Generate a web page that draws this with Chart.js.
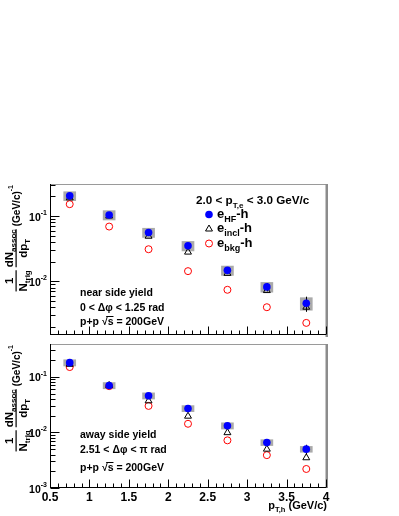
<!DOCTYPE html>
<html><head><meta charset="utf-8">
<script src="https://cdn.jsdelivr.net/npm/chart.js@4/dist/chart.umd.min.js"></script>
<style>
html,body{margin:0;padding:0;background:#fff;}
#wrap{position:relative;width:399px;height:516px;overflow:hidden;background:#fff;}
canvas{position:absolute;left:0;}
</style></head><body>
<div id="wrap">
<canvas id="topPanel" width="399" height="340" style="top:0px"></canvas>
<canvas id="botPanel" width="399" height="177" style="top:339px"></canvas>
</div>
<script>
// ---------------- data ----------------
const ptBins = [0.75, 1.25, 1.75, 2.25, 2.75, 3.25, 3.75];

const nearHF     = [0.204, 0.104, 0.056, 0.035, 0.0147, 0.0082, 0.0046];
const nearHFStat = [0.005, 0.003, 0.002, 0.0015, 0.0009, 0.0012, 0.0012];
const nearHFSys  = [0.032, 0.017, 0.009, 0.0058, 0.0024, 0.0014, 0.0010];
const nearIncl   = [0.190, 0.100, 0.049, 0.028, 0.0132, 0.0072, 0.0040];
const nearBkg    = [0.152, 0.069, 0.031, 0.0143, 0.0074, 0.0040, 0.0023];

const awayHF     = [0.180, 0.070, 0.0457, 0.027, 0.0132, 0.0066, 0.0050];
const awayHFStat = [0.004, 0.002, 0.0015, 0.001, 0.0006, 0.0007, 0.0010];
const awayHFSys  = [0.023, 0.009, 0.0058, 0.0034, 0.0017, 0.0008, 0.0006];
const awayIncl   = [0.168, 0.070, 0.037, 0.0196, 0.0099, 0.0050, 0.0035];
const awayBkg    = [0.150, 0.068, 0.030, 0.0143, 0.0072, 0.0039, 0.0022];

const xTickValues = [0.5, 1, 1.5, 2, 2.5, 3, 3.5, 4];
const xTickLabels = ["0.5", "1", "1.5", "2", "2.5", "3", "3.5", "4"];
const nearYTickExps = [-2, -1];
const awayYTickExps = [-3, -2, -1];

const legendTitle = ["2.0 < p", "T,e", " < 3.0 GeV/c"];
const legendEntries = [["e", "HF", "-h"], ["e", "incl", "-h"], ["e", "bkg", "-h"]];
const nearText = ["near side yield", "0 < \u0394\u03c6 < 1.25 rad", "p+p \u221as = 200GeV"];
const awayText = ["away side yield", "2.51 < \u0394\u03c6 < \u03c0 rad", "p+p \u221as = 200GeV"];

// ---------------- helpers ----------------
const FAM = '"Liberation Sans", Arial, Helvetica, sans-serif';
function fnt(s, bold) { return (bold === false ? '' : 'bold ') + s + 'px ' + FAM; }
function richWidth(ctx, parts) {
  let w = 0;
  for (const p of parts) { ctx.font = fnt(p.s, p.b); w += ctx.measureText(p.t).width; }
  return w;
}
function drawRich(ctx, x, y, parts, align) {
  const w = richWidth(ctx, parts);
  let cx = align === 'right' ? x - w : (align === 'center' ? x - w / 2 : x);
  ctx.textAlign = 'left'; ctx.textBaseline = 'alphabetic';
  const pos = [];
  for (const p of parts) {
    ctx.font = fnt(p.s, p.b);
    ctx.fillText(p.t, cx, y + (p.dy || 0));
    const pw = ctx.measureText(p.t).width;
    pos.push([cx, pw]);
    cx += pw;
  }
  return pos;
}
function drawSqrtLine(ctx, x, y, text, size) {
  const i = text.indexOf('\u221a');
  const parts = [{t: text.slice(0, i), s: size}, {t: '\u221a', s: size}, {t: 's', s: size}, {t: text.slice(i + 2), s: size}];
  const pos = drawRich(ctx, x, y, parts, 'left');
  ctx.save();
  ctx.strokeStyle = '#000'; ctx.lineWidth = 1;
  ctx.beginPath();
  const yy = Math.round(y - size * 0.78) + 0.5;
  ctx.moveTo(pos[1][0] + pos[1][1] * 0.75, yy);
  ctx.lineTo(pos[2][0] + pos[2][1], yy);
  ctx.stroke();
  ctx.restore();
}

function drawYTitle(ctx, px, topY) {
  // rotated fraction title: 1/N_trig dN_assoc/dp_T (GeV/c)^-1, ending at topY
  const M = 11.5, S = 8, G = 10, SU = 7;
  ctx.save();
  ctx.fillStyle = '#000';
  const w = (t, s) => { ctx.font = fnt(s); return ctx.measureText(t).width; };
  const f1 = Math.max(w('1', M), w('N', M) + w('trig', S));
  const f2 = Math.max(w('dN', M) + w('assoc', S), w('dp', M) + w('T', S));
  const g = w('(GeV/c)', G) + w('-1', SU);
  const gap1 = 3, gap2 = 3;
  const W = f1 + gap1 + f2 + gap2 + g;
  ctx.translate(px, topY);
  ctx.rotate(-Math.PI / 2);
  let x0 = -W;
  const numY = -3, denY = 10.5;
  ctx.textAlign = 'left'; ctx.textBaseline = 'alphabetic';
  ctx.font = fnt(M); ctx.fillText('1', x0 + (f1 - w('1', M)) / 2, numY);
  const d1 = w('N', M) + w('trig', S);
  let dx = x0 + (f1 - d1) / 2;
  ctx.font = fnt(M); ctx.fillText('N', dx, denY); dx += w('N', M);
  ctx.font = fnt(S); ctx.fillText('trig', dx, denY + 3);
  ctx.fillRect(x0, -0.5, f1, 1.2);
  x0 += f1 + gap1;
  const n2 = w('dN', M) + w('assoc', S);
  dx = x0 + (f2 - n2) / 2;
  ctx.font = fnt(M); ctx.fillText('dN', dx, numY); dx += w('dN', M);
  ctx.font = fnt(S); ctx.fillText('assoc', dx, numY + 3);
  const dd2 = w('dp', M) + w('T', S);
  dx = x0 + (f2 - dd2) / 2;
  ctx.font = fnt(M); ctx.fillText('dp', dx, denY); dx += w('dp', M);
  ctx.font = fnt(S); ctx.fillText('T', dx, denY + 3);
  ctx.fillRect(x0, -0.5, f2, 1.2);
  x0 += f2 + gap2;
  ctx.font = fnt(G); ctx.fillText('(GeV/c)', x0, 3.5); x0 += w('(GeV/c)', G);
  ctx.font = fnt(SU); ctx.fillText('-1', x0, -3);
  ctx.restore();
}

function makeRootPlugin(cfg) {
  return {
    id: 'rootStyle' + cfg.name,
    afterDatasetDraw(chart, args) {
      if (args.index !== 3) return;
      const ctx = chart.ctx, xs = chart.scales.x, ys = chart.scales.y;
      ctx.save();
      ctx.strokeStyle = '#000'; ctx.lineWidth = 1;
      ctx.beginPath();
      for (let i = 0; i < ptBins.length; i++) {
        const px = Math.round(xs.getPixelForValue(ptBins[i])) + 0.5;
        ctx.moveTo(px, ys.getPixelForValue(cfg.hf[i] + cfg.stat[i]));
        ctx.lineTo(px, ys.getPixelForValue(cfg.hf[i] - cfg.stat[i]));
      }
      ctx.stroke();
      ctx.restore();
    },
    afterDatasetsDraw(chart) {
      const ctx = chart.ctx, xs = chart.scales.x, ys = chart.scales.y, a = chart.chartArea;
      ctx.save();
      ctx.strokeStyle = '#9a9a9a'; ctx.lineWidth = 1;
      ctx.beginPath();
      ctx.moveTo(a.left, a.top + 0.5); ctx.lineTo(a.right, a.top + 0.5);
      ctx.stroke();
      ctx.fillStyle = '#8c8c8c';
      ctx.fillRect(a.right - 0.5, a.top, 2.5, a.bottom - a.top + (cfg.bottomPanel ? 0 : 2));
      ctx.strokeStyle = '#000'; ctx.lineWidth = 1;
      ctx.beginPath();
      const lx = a.left + 0.5, by = a.bottom - 0.5;
      ctx.moveTo(lx, a.top); ctx.lineTo(lx, a.bottom);
      ctx.moveTo(a.left, by); ctx.lineTo(a.right, by);
      for (let k = 0; k <= 35; k++) {
        const v = 0.5 + k * 0.1;
        const px = Math.round(xs.getPixelForValue(v)) + 0.5;
        const len = (k % 5 === 0) ? 8 : 4;
        ctx.moveTo(px, by); ctx.lineTo(px, by - len);
      }
      for (let e = -4; e <= 0; e++) {
        for (let m = 1; m <= 9; m++) {
          const v = m * Math.pow(10, e);
          if (v < ys.min * 0.999 || v > ys.max * 1.001) continue;
          const py = Math.round(ys.getPixelForValue(v)) + 0.5;
          const len = m === 1 ? 9 : 5;
          ctx.moveTo(lx, py); ctx.lineTo(lx + len, py);
        }
      }
      ctx.stroke();
      ctx.fillStyle = '#000';
      for (const e of cfg.yExps) {
        const py = ys.getPixelForValue(Math.pow(10, e));
        const sup = String(e);
        ctx.font = fnt(7); const ws = ctx.measureText(sup).width;
        ctx.font = fnt(10.5); const wb = ctx.measureText('10').width;
        const xr = a.left - 3;
        ctx.textAlign = 'left'; ctx.textBaseline = 'alphabetic';
        ctx.font = fnt(10.5); ctx.fillText('10', xr - ws - wb, py + 4.5);
        ctx.font = fnt(7); ctx.fillText(sup, xr - ws, py - 1);
      }
      if (cfg.bottomPanel) {
        ctx.font = fnt(12); ctx.textAlign = 'center'; ctx.textBaseline = 'alphabetic';
        for (let i = 0; i < xTickValues.length; i++) {
          ctx.fillText(xTickLabels[i], xs.getPixelForValue(xTickValues[i]), a.bottom + 13);
        }
        drawRich(ctx, a.right + 1, a.bottom + 21, [
          {t: 'p', s: 11}, {t: 'T,h', s: 7.5, dy: 3}, {t: ' (GeV/c)', s: 11}
        ], 'right');
      }
      drawYTitle(ctx, 16, a.top + cfg.titleShift);
      ctx.fillStyle = '#000';
      ctx.font = fnt(10.5); ctx.textAlign = 'left';
      ctx.fillText(cfg.text[0], 80, cfg.textY[0]);
      ctx.fillText(cfg.text[1], 80, cfg.textY[1]);
      drawSqrtLine(ctx, 80, cfg.textY[2], cfg.text[2], 10.5);
      if (!cfg.bottomPanel) {
        drawRich(ctx, 196, 204, [
          {t: legendTitle[0], s: 11.7}, {t: legendTitle[1], s: 8, dy: 3.5}, {t: legendTitle[2], s: 11.7}
        ], 'left');
        const ly = [214.5, 229, 243.5];
        const mx = 209;
        ctx.fillStyle = '#0000ff';
        ctx.beginPath(); ctx.arc(mx, ly[0], 3.8, 0, Math.PI * 2); ctx.fill();
        ctx.strokeStyle = '#000'; ctx.lineWidth = 1;
        ctx.beginPath();
        const r = 4;
        for (let k = 0; k < 3; k++) {
          const ang = k * 2 * Math.PI / 3;
          const X = mx + Math.sin(ang) * r, Y = ly[1] - Math.cos(ang) * r;
          if (k === 0) ctx.moveTo(X, Y); else ctx.lineTo(X, Y);
        }
        ctx.closePath(); ctx.stroke();
        ctx.strokeStyle = '#ff0000';
        ctx.beginPath(); ctx.arc(mx, ly[2], 3.5, 0, Math.PI * 2); ctx.stroke();
        ctx.fillStyle = '#000';
        for (let k = 0; k < 3; k++) {
          drawRich(ctx, 217, ly[k] + 3, [
            {t: legendEntries[k][0], s: 13}, {t: legendEntries[k][1], s: 9, dy: 4}, {t: legendEntries[k][2], s: 13}
          ], 'left');
        }
      }
      ctx.restore();
    }
  };
}

function pts(vals) { return ptBins.map((x, i) => ({x: x, y: vals[i]})); }
function boxes(vals, sys) { return ptBins.map((x, i) => ({x: x, y: [vals[i] - sys[i], vals[i] + sys[i]]})); }

function makePanel(id, cfg) {
  return new Chart(document.getElementById(id), {
    type: 'scatter',
    data: { datasets: [
      {label: 'e_HF-h', data: pts(cfg.hf), pointStyle: 'circle', pointRadius: 3.8, pointHoverRadius: 3.8,
       backgroundColor: '#0000ff', borderColor: '#0000ff', borderWidth: 0},
      {label: 'e_incl-h', data: pts(cfg.incl), pointStyle: 'triangle', pointRadius: 4, pointHoverRadius: 4,
       backgroundColor: 'rgba(0,0,0,0)', borderColor: '#000000', borderWidth: 1},
      {label: 'e_bkg-h', data: pts(cfg.bkg), pointStyle: 'circle', pointRadius: 3.5, pointHoverRadius: 3.5,
       backgroundColor: 'rgba(0,0,0,0)', borderColor: '#ff0000', borderWidth: 1},
      {type: 'bar', label: 'sys', data: boxes(cfg.hf, cfg.sys), backgroundColor: '#aaaaaa',
       borderWidth: 0, barThickness: 12}
    ]},
    options: {
      responsive: false, animation: false, devicePixelRatio: 1, events: [],
      layout: {padding: {left: 50, right: 73, top: cfg.padTop, bottom: cfg.padBottom}},
      plugins: {legend: {display: false}, tooltip: {enabled: false}},
      scales: {
        x: {type: 'linear', min: 0.5, max: 4, display: false, offset: false},
        y: {type: 'logarithmic', min: cfg.yMin, max: cfg.yMax, display: false}
      }
    },
    plugins: [makeRootPlugin(cfg)]
  });
}

makePanel('topPanel', {
  name: 'near', hf: nearHF, stat: nearHFStat, sys: nearHFSys, incl: nearIncl, bkg: nearBkg,
  yMin: 0.0015, yMax: 0.31, yExps: nearYTickExps, padTop: 184, padBottom: 1,
  bottomPanel: false, titleShift: 1, text: nearText, textY: [295.5, 310.5, 324.5]
});
makePanel('botPanel', {
  name: 'away', hf: awayHF, stat: awayHFStat, sys: awayHFSys, incl: awayIncl, bkg: awayBkg,
  yMin: 0.001, yMax: 0.39, yExps: awayYTickExps, padTop: 0, padBottom: 28,
  bottomPanel: true, titleShift: 1, text: awayText, textY: [99, 114, 131.5]
});
</script>
</body></html>
